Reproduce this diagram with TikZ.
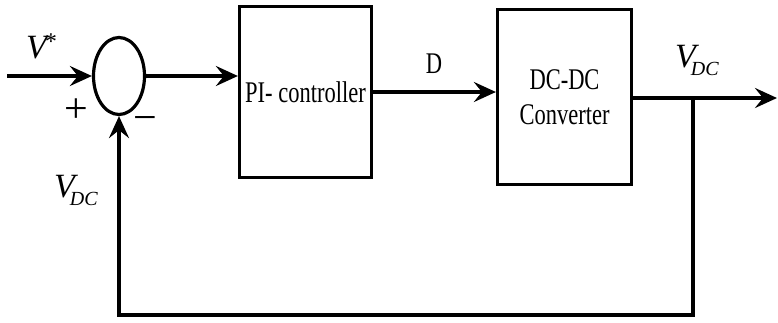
\documentclass[tikz,border=0pt]{standalone}
\usepackage{fontspec}
\setmainfont{Liberation Serif}
\newfontfamily\narrowserif{Liberation Serif}[FakeStretch=0.75]
\usetikzlibrary{arrows.meta,shapes.geometric}

% italic V with an italic subscript
\newcommand{\Vsub}[1]{{\fontsize{34}{34}\selectfont\itshape V}\kern-5pt\raisebox{-8pt}{\fontsize{20}{20}\selectfont\itshape #1}}

\tikzset{
  blockbox/.style={draw, line width=3.2pt, minimum width=#1, inner sep=0pt, font=\narrowserif\fontsize{30}{35}\selectfont, align=center},
  sumjunction/.style={draw, ellipse, line width=3.2pt, minimum width=51pt, minimum height=77pt, inner sep=0pt},
  signal/.style={line width=4pt, -{Stealth[length=22pt, width=20pt, inset=8pt]}},
  lbl/.style={inner sep=0pt},
}

\begin{document}
\begin{tikzpicture}[x=1pt, y=-1pt]
  \useasboundingbox (0,0) rectangle (778,322);

  % summing junction and the two blocks
  \node[sumjunction] (sum) at (119,76) {};
  \node[blockbox=132pt, minimum height=171pt] (pi) at (305.5,92) {PI- controller};
  \node[blockbox=134pt, minimum height=175pt] (dc) at (564.5,97) {DC-DC\\Converter};

  % reference input
  \coordinate (in) at (7,76);
  \draw[signal] (in) -- (sum.west);

  % forward path
  \draw[signal] (sum.east) -- (sum.east -| pi.west);
  \draw[signal] (pi.east) -- (pi.east -| dc.west);

  % output and feedback
  \coordinate (out) at (777,98);
  \coordinate (branch) at (693,98);
  \coordinate (bottom) at (693,315);
  \draw[signal] (dc.east |- out) -- (out);
  \draw[signal] (branch) -- (bottom) -| (sum.south);

  % labels
  \node[lbl, anchor=base west] (vref) at (26,58) {{\fontsize{34}{34}\selectfont\itshape V}\kern-3pt\raisebox{9pt}{\fontsize{24}{24}\selectfont\itshape *}};
  \node[lbl, font=\fontsize{42}{42}\selectfont] (plus) at (76,111) {+};
  \node[lbl, font=\fontsize{42}{42}\selectfont] (minus) at (145,124) {−};
  \node[lbl, font=\narrowserif\fontsize{30}{30}\selectfont] (dlab) at (434,64) {D};
  \node[lbl, anchor=base west] (vfb) at (54,197) {\Vsub{DC}};
  \node[lbl, anchor=base west] (vout) at (675,67) {\Vsub{DC}};
\end{tikzpicture}
\end{document}
